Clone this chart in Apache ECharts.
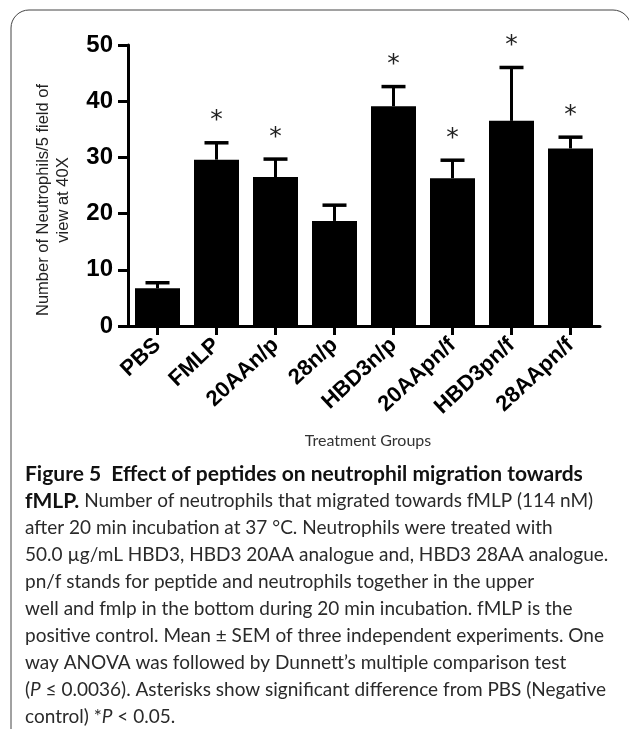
<!DOCTYPE html>
<html>
<head>
<meta charset="utf-8">
<script src="https://cdn.jsdelivr.net/npm/echarts@6/dist/echarts.min.js"></script>
<style>
html,body{margin:0;padding:0;background:#fff;}
#c{width:629px;height:729px;}
</style>
</head>
<body>
<div id="c"></div>
<script>
var categories = ['PBS','FMLP','20AAn/p','28n/p','HBD3n/p','20AApn/f','HBD3pn/f','28AApn/f'];
var means = [6.7, 29.6, 26.5, 18.7, 39.1, 26.3, 36.5, 31.6];
var sems = [1.0, 3.0, 3.2, 2.8, 3.5, 3.2, 9.5, 2.0];
var significant = [0, 1, 1, 0, 1, 1, 1, 1];
var yTicks = [0, 10, 20, 30, 40, 50];
var yTitle = ['Number of Neutrophils/5 field of', 'view at 40X'];
var xTitle = 'Treatment Groups';
var captionLines = [
  '{b|Figure 5  Effect of peptides on neutrophil migration towards}',
  '{b|fMLP.} Number of neutrophils that migrated towards fMLP (114 nM)',
  'after 20 min incubation at 37 °C. Neutrophils were treated with',
  '50.0 µg/mL HBD3, HBD3 20AA analogue and, HBD3 28AA analogue.',
  'pn/f stands for peptide and neutrophils together in the upper',
  'well and fmlp in the bottom during 20 min incubation. fMLP is the',
  'positive control. Mean ± SEM of three independent experiments. One',
  'way ANOVA was followed by Dunnett’s multiple comparison test',
  '({i|P} ≤ 0.0036). Asterisks show significant difference from PBS (Negative',
  'control) *{i|P} < 0.05.'
];

var chart = echarts.init(document.getElementById('c'), null, {renderer: 'canvas'});

var errData = categories.map(function (c, i) { return [i, means[i], sems[i], significant[i]]; });

var capFont = 'Lato, "Open Sans", sans-serif';
var graphics = [
  {type: 'rect', shape: {x: 11, y: 10, width: 620, height: 800, r: 18}, style: {fill: 'none', stroke: '#444', lineWidth: 1}, z: 1},
  {type: 'text', x: 53, y: 200, rotation: Math.PI / 2,
   style: {text: yTitle.join('\n'), font: '16.5px "Liberation Sans", Arial, sans-serif', fill: '#222', textAlign: 'center', textVerticalAlign: 'middle', lineHeight: 20}},
  {type: 'text', x: 368, y: 441,
   style: {text: xTitle, font: '16px ' + capFont, fill: '#333', textAlign: 'center', textVerticalAlign: 'middle'}}
];
captionLines.forEach(function (line, i) {
  graphics.push({type: 'text', x: 25, y: 474 + i * 27,
    style: {text: line, font: '19px ' + capFont, fill: '#2a2a2a', textVerticalAlign: 'middle',
      rich: {b: {fontWeight: 'bold', fontSize: 21, fontFamily: capFont, fill: '#111'},
             i: {fontStyle: 'italic', fontSize: 19, fontFamily: capFont, fill: '#2a2a2a'}}}});
});

chart.setOption({
  animation: false,
  grid: {left: 128, right: 29, top: 45, bottom: 403, containLabel: false},
  xAxis: {
    type: 'category', data: categories,
    axisLine: {lineStyle: {color: '#000', width: 3}},
    axisTick: {show: true, alignWithLabel: true, length: 9, lineStyle: {color: '#000', width: 3}},
    axisLabel: {rotate: 43, margin: 16, color: '#000', fontWeight: 'bold', fontSize: 22, fontFamily: '"Liberation Sans", Arial, sans-serif', interval: 0}
  },
  yAxis: {
    type: 'value', min: 0, max: 50, interval: 10,
    axisLine: {show: true, lineStyle: {color: '#000', width: 3}},
    axisTick: {show: true, length: 10, lineStyle: {color: '#000', width: 3}},
    axisLabel: {color: '#000', fontWeight: 'bold', fontSize: 24, margin: 15, fontFamily: '"Liberation Sans", Arial, sans-serif',
      formatter: function (v) { return yTicks.indexOf(v) >= 0 ? String(v) : ''; }},
    splitLine: {show: false}
  },
  series: [
    {type: 'bar', data: means, barWidth: 45, itemStyle: {color: '#000'}, z: 2},
    {type: 'custom', data: errData, z: 3,
     renderItem: function (params, api) {
       var i = api.value(0), m = api.value(1), s = api.value(2), sig = api.value(3);
       var base = api.coord([i, m]);
       var top = api.coord([i, m + s]);
       var children = [
         {type: 'line', shape: {x1: top[0], y1: base[1], x2: top[0], y2: top[1]}, style: {stroke: '#000', lineWidth: 3}},
         {type: 'line', shape: {x1: top[0] - 12, y1: top[1], x2: top[0] + 12, y2: top[1]}, style: {stroke: '#000', lineWidth: 3.5}}
       ];
       if (sig) {
         children.push({type: 'text', x: top[0], y: top[1] - 22,
           style: {text: '*', font: '25px "DejaVu Sans", sans-serif', fill: '#222', textAlign: 'center', textVerticalAlign: 'middle'}});
       }
       return {type: 'group', children: children};
     }}
  ],
  graphic: graphics
});
</script>
</body>
</html>
